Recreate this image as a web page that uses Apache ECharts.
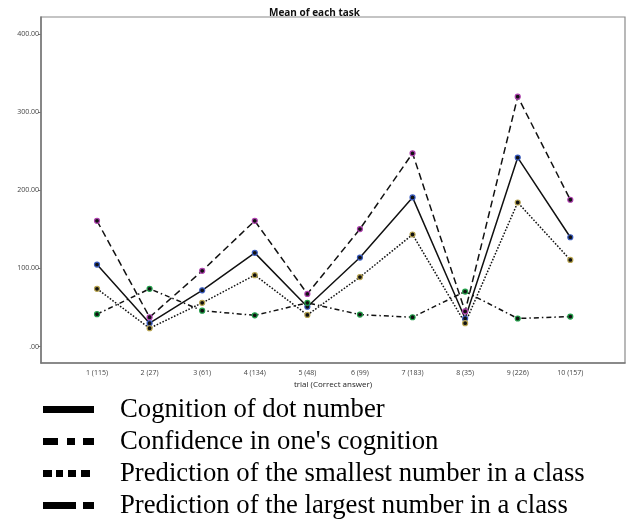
<!DOCTYPE html>
<html>
<head>
<meta charset="utf-8">
<script src="https://cdn.jsdelivr.net/npm/echarts@6/dist/echarts.min.js"></script>
<style>
html,body{margin:0;padding:0;background:#fff;}
#chart{width:629px;height:525px;}
</style>
</head>
<body>
<div id="chart"></div>
<script>
const categories = ['1 (115)','2 (27)','3 (61)','4 (134)','5 (48)','6 (99)','7 (183)','8 (35)','9 (226)','10 (157)'];
const cognition  = [105, 30, 72, 120, 51, 114, 191, 36, 242, 140];
const confidence = [41.5, 74, 46, 40, 56, 41, 37.6, 70.5, 36, 38.4];
const smallest   = [74, 23.5, 56, 91.5, 40.5, 89, 143.5, 30, 184.5, 111];
const largest    = [161, 37.6, 97, 161, 67.5, 150.5, 247.5, 45, 320, 188];
const yTickValues = [0, 100, 200, 300, 400];
const yTickLabels = ['.00', '100.00', '200.00', '300.00', '400.00'];
const seriesNames = [
  'Cognition of dot number',
  "Confidence in one's cognition",
  'Prediction of the smallest number in a class',
  'Prediction of the largest number in a class'
];

const xPositions = categories.map((c, i) => i + 1);
const pairs = arr => arr.map((v, i) => [xPositions[i], v]);

const chart = echarts.init(document.getElementById('chart'), null, {renderer: 'canvas'});

function mk(name, data, lineType, markerColor) {
  return {
    name: name,
    type: 'line',
    data: pairs(data),
    symbol: 'circle',
    symbolSize: 5,
    lineStyle: {color: '#111', width: 1.5, type: lineType},
    itemStyle: {color: '#111', borderColor: markerColor, borderWidth: 1.2},
    emphasis: {disabled: true},
    animation: false
  };
}

const option = {
  backgroundColor: '#fff',
  animation: false,
  title: {
    text: 'Mean of each task',
    left: 'center',
    top: 3,
    textStyle: {fontFamily: 'Open Sans', fontSize: 10, fontWeight: 'bold', color: '#111'}
  },
  grid: {
    left: 41, top: 17, right: 4, bottom: 162,
    show: true, borderColor: '#8a8a8a', borderWidth: 1.2, containLabel: false
  },
  xAxis: {
    type: 'value',
    min: -0.065,
    max: 11.04,
    name: 'trial (Correct answer)',
    nameLocation: 'middle',
    nameGap: 18,
    nameTextStyle: {fontFamily: 'Open Sans', fontSize: 8, color: '#222'},
    axisLine: {show: true, onZero: false, lineStyle: {color: '#777', width: 1.5}},
    axisTick: {show: false},
    splitLine: {show: false},
    axisLabel: {
      customValues: xPositions,
      formatter: v => categories[Math.round(v) - 1] || '',
      fontFamily: 'Open Sans', fontSize: 7, color: '#444', margin: 6
    }
  },
  yAxis: {
    type: 'value',
    min: -21,
    max: 422,
    axisLine: {show: true, onZero: false, lineStyle: {color: '#777', width: 1.5}},
    axisTick: {show: true, length: 3, customValues: yTickValues, lineStyle: {color: '#777'}},
    splitLine: {show: false},
    axisLabel: {
      customValues: yTickValues,
      formatter: v => yTickLabels[yTickValues.indexOf(Math.round(v))] || '',
      fontFamily: 'Open Sans', fontSize: 7, color: '#444', margin: 2
    }
  },
  legend: {
    orient: 'vertical',
    left: 43,
    top: 396,
    height: 129,
    padding: 0,
    itemWidth: 51,
    itemHeight: 7,
    itemGap: 5,
    selectedMode: false,
    itemStyle: {color: '#000', borderWidth: 0},
    textStyle: {fontFamily: 'Liberation Serif', fontSize: 26.7, lineHeight: 27, color: '#000', padding: [0, 0, 0, 21]},
    data: [
      {name: seriesNames[0], icon: 'path://M0,0H51V7H0Z'},
      {name: seriesNames[1], icon: 'path://M0,0H15V7H0Z M24,0H32V7H24Z M40,0H51V7H40Z'},
      {name: seriesNames[2], icon: 'path://M0,0H9V7H0Z M13,0H20V7H13Z M25,0H33V7H25Z M38,0H47V7H38Z M50.9,3H51V3.1H50.9Z'},
      {name: seriesNames[3], icon: 'path://M0,0H33V7H0Z M40,0H51V7H40Z'}
    ]
  },
  series: [
    mk(seriesNames[0], cognition, 'solid', '#3a5cc0'),
    mk(seriesNames[1], confidence, [5, 3, 1.5, 3], '#22a04a'),
    mk(seriesNames[2], smallest, [1.6, 1.6], '#b8a450'),
    mk(seriesNames[3], largest, [7, 4], '#b040b0')
  ]
};
chart.setOption(option);
</script>
</body>
</html>
